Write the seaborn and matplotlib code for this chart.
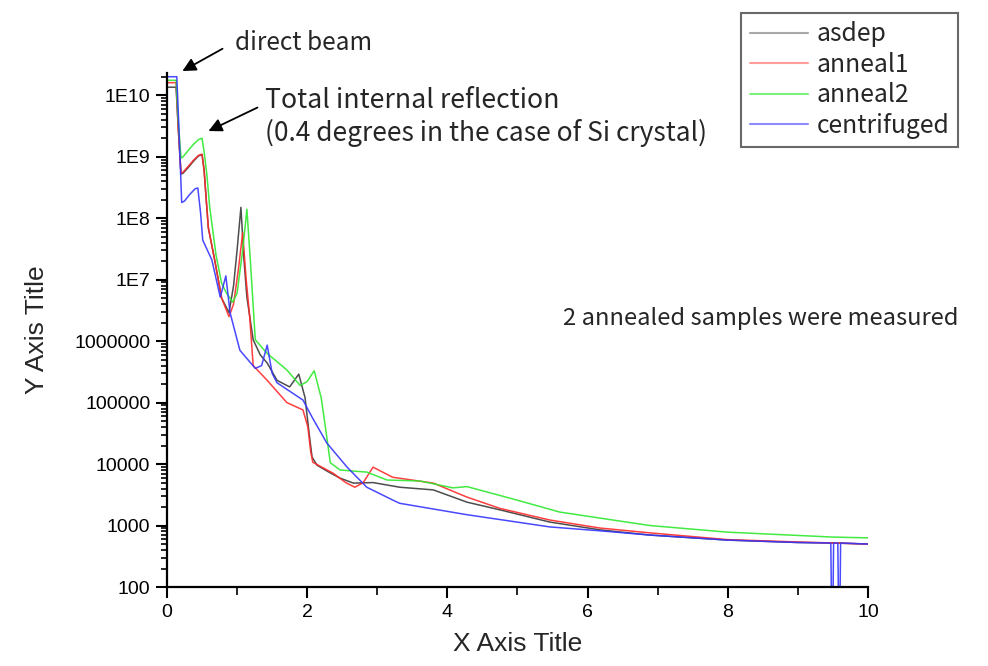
import numpy as np
import pandas as pd
import matplotlib
matplotlib.use("Agg")
import matplotlib.pyplot as plt
from matplotlib.ticker import FixedLocator, LogLocator, NullFormatter, MultipleLocator
from matplotlib.lines import Line2D
import seaborn as sns

# ---------------- data ----------------
asdep_x = [0.0, 0.13, 0.16, 0.2, 0.23, 0.3, 0.38, 0.45, 0.5, 0.53, 0.56, 0.59, 0.68, 0.78, 0.885,
           0.95, 1.0, 1.055, 1.1, 1.14, 1.23, 1.33, 1.43, 1.57, 1.75, 1.88, 1.97, 2.03, 2.07, 2.14,
           2.3, 2.47, 2.66, 2.94, 3.32, 3.8, 4.28, 4.75, 5.46, 6.18, 6.89, 8.0, 9.0, 9.5, 10.0]
asdep_y = [1.35e10, 1.35e10, 3e9, 5.2e8, 5.4e8, 6.6e8, 8.5e8, 1.03e9, 1.08e9, 6e8, 2e8, 7e7, 2.1e7, 5e6, 2.9e6,
           8e6, 3e7, 1.5e8, 2e7, 5.2e6, 1.05e6, 6e5, 4.4e5, 2.3e5, 1.8e5, 2.9e5, 1.2e5, 3e4, 1.3e4, 9.6e3,
           7.5e3, 5.9e3, 4.9e3, 5.0e3, 4.2e3, 3.8e3, 2.4e3, 1.8e3, 1.14e3, 850, 700, 580, 530, 520, 500]

anneal1_x = [0.0, 0.13, 0.16, 0.2, 0.23, 0.3, 0.38, 0.45, 0.5, 0.53, 0.56, 0.59, 0.68, 0.78, 0.885,
             0.95, 1.02, 1.08, 1.13, 1.18, 1.23, 1.43, 1.71, 1.94, 2.01, 2.05, 2.08, 2.37, 2.55, 2.68,
             2.8, 2.94, 3.22, 3.8, 4.28, 4.75, 5.46, 6.18, 6.89, 8.0, 9.0, 9.5, 10.0]
anneal1_y = [1.6e10, 1.6e10, 3e9, 5.4e8, 5.6e8, 6.9e8, 8.8e8, 1.05e9, 1.1e9, 6e8, 2e8, 7e7, 2.1e7, 5e6, 2.5e6,
             4e6, 1.5e7, 5.8e7, 1e7, 2.5e6, 4e5, 2.3e5, 1.0e5, 7.6e4, 4e4, 1.6e4, 1.07e4, 7.1e3, 5e3, 4.2e3,
             5e3, 8.9e3, 6.1e3, 4.9e3, 2.9e3, 1.9e3, 1.23e3, 910, 760, 590, 540, 520, 500]

anneal2_x = [0.0, 0.13, 0.16, 0.2, 0.23, 0.3, 0.38, 0.45, 0.5, 0.53, 0.57, 0.61, 0.7, 0.78, 0.85, 0.94,
             1.0, 1.08, 1.14, 1.19, 1.26, 1.43, 1.71, 1.9, 2.0, 2.1, 2.2, 2.26, 2.33, 2.47,
             2.85, 3.14, 3.61, 4.08, 4.28, 4.99, 5.6, 6.18, 6.89, 8.0, 9.49, 10.0]
anneal2_y = [1.75e10, 1.75e10, 4e9, 9.5e8, 1.0e9, 1.25e9, 1.6e9, 1.9e9, 2e9, 1.2e9, 5e8, 1.5e8, 2.5e7, 8.7e6, 6e6, 4.3e6,
             6e6, 3e7, 1.4e8, 2e7, 1.05e6, 6.3e5, 3.4e5, 1.9e5, 2.2e5, 3.3e5, 1.2e5, 4e4, 1.05e4, 8.0e3,
             7.4e3, 5.5e3, 5.3e3, 4.1e3, 4.3e3, 2.6e3, 1.66e3, 1.32e3, 1.0e3, 780, 650, 630]

centrifuged_x = [0.0, 0.14, 0.17, 0.21, 0.25, 0.32, 0.4, 0.44, 0.48, 0.51, 0.64, 0.76, 0.84, 0.9,
                 1.04, 1.26, 1.35, 1.43, 1.5, 1.57, 1.94, 2.07, 2.28, 2.57, 2.85, 3.22, 3.32,
                 4.28, 4.99, 5.46, 6.18, 6.89, 8.0, 9.0, 9.47, 9.48, 9.5, 9.51, 9.57, 9.58, 9.6, 9.61, 10.0]
centrifuged_y = [2.0e10, 2.0e10, 3e9, 1.8e8, 1.9e8, 2.4e8, 3e8, 3.1e8, 1.2e8, 4.4e7, 2.1e7, 5.2e6, 1.15e7, 2.9e6,
                 7.1e5, 3.6e5, 4e5, 8.6e5, 3e5, 2.1e5, 1.1e5, 5.8e4, 2.2e4, 8.9e3, 4.2e3, 2.6e3, 2.3e3,
                 1.5e3, 1.14e3, 950, 820, 700, 580, 530, 520, 50, 50, 520, 520, 50, 50, 520, 500]

series_names = ["asdep", "anneal1", "anneal2", "centrifuged"]
ytick_vals = [100, 1000, 10000, 100000, 1000000, 1e7, 1e8, 1e9, 1e10]
ytick_labels = ["100", "1000", "10000", "100000", "1000000", "1E7", "1E8", "1E9", "1E10"]
xtick_vals = [0, 2, 4, 6, 8, 10]

frames = []
for name, xs, ys in zip(series_names,
                        [asdep_x, anneal1_x, anneal2_x, centrifuged_x],
                        [asdep_y, anneal1_y, anneal2_y, centrifuged_y]):
    frames.append(pd.DataFrame({"x": xs, "y": ys, "sample": name}))
df = pd.concat(frames, ignore_index=True)

# ---------------- style ----------------
sns.set_style("ticks")
plt.rcParams["font.family"] = ["Liberation Sans", "DejaVu Sans"]
jp = ["Noto Sans CJK JP", "DejaVu Sans"]

line_colors = {"asdep": "#3a3a3a", "anneal1": "#ff2a2a", "anneal2": "#2ee82e", "centrifuged": "#3535ff"}
legend_colors = {"asdep": "#a8a8a8", "anneal1": "#ff9c9c", "anneal2": "#7cf07c", "centrifuged": "#8c8cff"}

fig = plt.figure(figsize=(9.88, 6.66), dpi=100)
ax = fig.add_axes([0.169, 0.1186, 0.7095, 0.7718])

sns.lineplot(data=df, x="x", y="y", hue="sample", palette=line_colors, sort=False,
             estimator=None, legend=False, linewidth=1.1, alpha=0.9, ax=ax)

ax.set_yscale("log")
ax.set_xlim(0, 10)
ax.set_ylim(100, 2.3e10)

ax.yaxis.set_major_locator(FixedLocator(ytick_vals))
ax.set_yticklabels(ytick_labels)
ax.yaxis.set_minor_locator(LogLocator(base=10, subs=np.arange(2, 10), numticks=100))
ax.yaxis.set_minor_formatter(NullFormatter())
ax.set_xticks(xtick_vals)
ax.xaxis.set_minor_locator(MultipleLocator(1))

for s in ["top", "right"]:
    ax.spines[s].set_visible(False)
for s in ["left", "bottom"]:
    ax.spines[s].set_linewidth(1.6)
    ax.spines[s].set_color("black")

ax.tick_params(axis="both", which="major", direction="out", length=8, width=1.5,
               labelsize=14, colors="black", pad=4)
ax.tick_params(axis="both", which="minor", direction="out", length=4, width=1.2, colors="black")
ax.tick_params(axis="x", which="minor", length=6)

ax.set_xlabel("X Axis Title", fontsize=19, labelpad=8)
ax.set_ylabel("Y Axis Title", fontsize=19, labelpad=18)

# ---------------- annotations ----------------
ax.text(0.97, 7.2e10, "direct beam", fontsize=17.6, family=jp, va="center", ha="left")
ax.annotate("", xy=(0.185, 2.35e10), xytext=(0.827, 6.0e10),
            arrowprops=dict(arrowstyle="-|>", color="black", lw=1.3, mutation_scale=20),
            annotation_clip=False)
ax.text(1.40, 8.3e9, "Total internal reflection", fontsize=19.2, family=jp,
        va="center", ha="left")
ax.text(1.40, 2.4e9, "(0.4 degrees in the case of Si crystal)", fontsize=19.0, family=jp,
        va="center", ha="left")
ax.annotate("", xy=(0.556, 2.5e9), xytext=(1.327, 6.6e9),
            arrowprops=dict(arrowstyle="-|>", color="black", lw=1.3, mutation_scale=20),
            annotation_clip=False)
ax.text(5.65, 2.35e6, "2 annealed samples were measured", fontsize=17.1, family=jp,
        va="center", ha="left")

# ---------------- legend ----------------
handles = [Line2D([0], [0], color=legend_colors[n], lw=1.5) for n in series_names]
leg = fig.legend(handles, series_names, loc="upper left", bbox_to_anchor=(0.75, 0.981),
                 bbox_transform=fig.transFigure, frameon=True, fancybox=False,
                 prop={"family": jp, "size": 17.8}, handlelength=2.35, handletextpad=0.37,
                 labelspacing=0.18, borderpad=0.35, borderaxespad=0)
leg.get_frame().set_edgecolor("#444444")
leg.get_frame().set_linewidth(1.5)

fig.savefig("out.png", dpi=100)
